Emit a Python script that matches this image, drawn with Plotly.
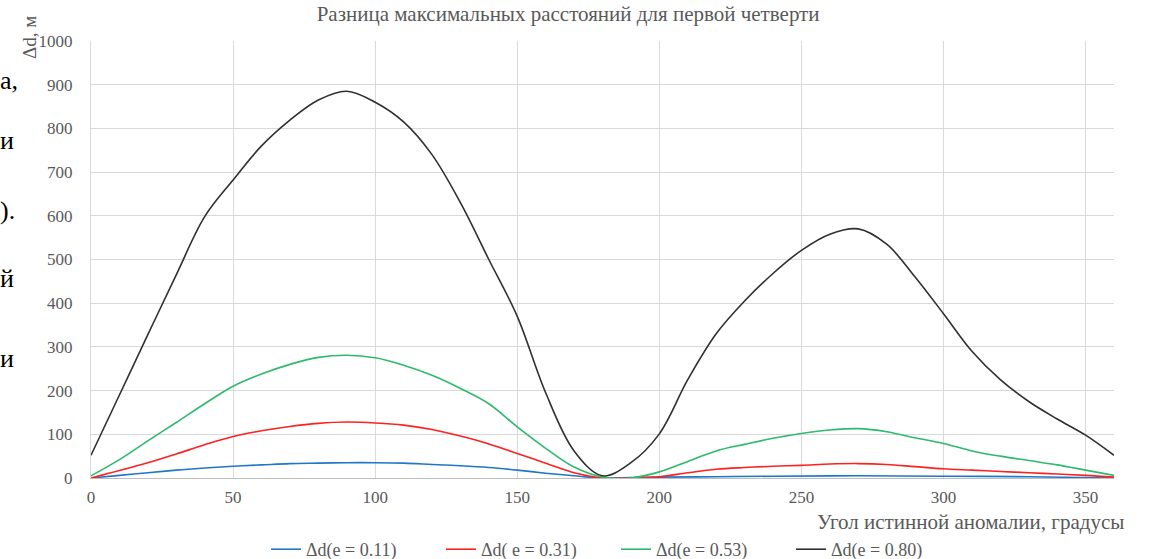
import plotly.graph_objects as go

# ---- data ----
angle_011 = [0, 10, 20, 30, 40, 50, 60, 70, 80, 90, 100, 110, 120, 130, 140, 150, 160, 170, 180,
             190, 200, 220, 240, 270, 300, 330, 360]
dd_011 = [0, 6, 12, 18, 23, 27, 30, 33, 34, 35, 35, 34, 31, 28, 24, 18, 11, 5, 0,
          1, 2, 3, 4, 5, 4, 3, 0]

angle_031 = [0, 10, 20, 30, 40, 50, 60, 70, 80, 90, 100, 110, 120, 130, 140, 150, 160, 170, 180,
             190, 200, 210, 220, 230, 240, 250, 260, 270, 280, 290, 300, 310, 320, 330, 340, 350, 360]
dd_031 = [0, 17, 35, 55, 76, 95, 108, 118, 125, 128, 126, 121, 111, 96, 78, 56, 34, 12, 0,
          0, 3, 12, 20, 24, 27, 29, 32, 33, 31, 26, 21, 18, 15, 12, 9, 6, 2]

angle_053 = [0, 10, 20, 30, 40, 50, 60, 70, 80, 90, 100, 110, 120, 130, 140, 150, 160, 170, 180,
             190, 200, 210, 220, 230, 240, 250, 260, 270, 280, 290, 300, 310, 320, 330, 340, 350, 360]
dd_053 = [5, 42, 85, 127, 170, 210, 238, 260, 276, 281, 275, 258, 235, 205, 170, 117, 68, 25, 2,
          0, 14, 38, 62, 77, 91, 102, 110, 113, 106, 92, 79, 62, 50, 40, 30, 18, 6]

angle_080 = [0, 10, 20, 30, 40, 50, 60, 70, 80, 90, 100, 110, 120, 130, 140, 150, 160, 170, 180,
             190, 200, 210, 220, 230, 240, 250, 260, 270, 280, 290, 300, 310, 320, 330, 340, 350, 360]
dd_080 = [52, 190, 328, 465, 598, 682, 760, 819, 865, 885, 860, 815, 740, 630, 500, 370, 195, 62, 5,
          35, 101, 225, 330, 405, 468, 521, 558, 570, 535, 460, 376, 290, 225, 175, 135, 98, 52]

series_names = ["Δd(e = 0.11)", "Δd( e = 0.31)", "Δd(e = 0.53)", "Δd(e = 0.80)"]
series_colors = ["#1F77C8", "#FF2020", "#2DBA6E", "#303030"]

x_ticks = [0, 50, 100, 150, 200, 250, 300, 350]
y_ticks = [0, 100, 200, 300, 400, 500, 600, 700, 800, 900, 1000]

title_text = "Разница максимальных расстояний для первой четверти"
x_title = "Угол истинной аномалии, градусы"
y_title = "Δd, м"
side_fragments = ["а,", "и", ").", "й", "и"]

# ---- figure ----
W, H = 1150, 559
L, R, T, B = 91, 36, 41, 81
pw, ph = W - L - R, H - T - B

def px_to_paper_x(px):
    return (px - L) / pw

def py_to_paper_y(py):
    return (H - B - py) / ph

fig = go.Figure()
data = [(angle_011, dd_011), (angle_031, dd_031), (angle_053, dd_053), (angle_080, dd_080)]
for (xs, ys), name, col in zip(data, series_names, series_colors):
    fig.add_trace(go.Scatter(
        x=xs, y=ys, name=name, mode="lines",
        line=dict(color=col, width=1.6, shape="spline", smoothing=1.0),
    ))

serif = "Liberation Serif, Times New Roman, serif"
gray = "#595959"

fig.update_layout(
    width=W, height=H,
    margin=dict(l=L, r=R, t=T, b=B, autoexpand=False),
    paper_bgcolor="white", plot_bgcolor="white",
    font=dict(family=serif, color=gray, size=17),
    title=dict(text=title_text, x=0.494, xanchor="center", y=1 - 14 / H, yanchor="middle",
               font=dict(family=serif, size=21, color=gray)),
    showlegend=True,
    legend=dict(orientation="h", x=px_to_paper_x(266), xanchor="left",
                y=py_to_paper_y(531), yanchor="top",
                font=dict(family=serif, size=18, color=gray),
                entrywidth=130, entrywidthmode="pixels",
                itemwidth=30, bgcolor="rgba(0,0,0,0)"),
    xaxis=dict(range=[0, 360], tickvals=x_ticks, ticktext=[str(v) for v in x_ticks],
               showgrid=True, gridcolor="#D9D9D9", gridwidth=1,
               showline=True, linecolor="#BFBFBF", linewidth=1,
               zeroline=False, ticks="", ticklabelstandoff=4,
               tickfont=dict(family=serif, size=17, color=gray)),
    yaxis=dict(range=[0, 1000], tickvals=y_ticks, ticktext=[str(v) for v in y_ticks],
               showgrid=True, gridcolor="#D9D9D9", gridwidth=1,
               showline=True, linecolor="#D9D9D9", linewidth=1,
               zeroline=False, ticks="", ticklabelstandoff=14,
               tickfont=dict(family=serif, size=17, color=gray)),
)

# x-axis title (right aligned, below ticks)
fig.add_annotation(text=x_title, xref="paper", yref="paper",
                   x=px_to_paper_x(1126), xanchor="right",
                   y=py_to_paper_y(522), yanchor="middle", showarrow=False,
                   font=dict(family=serif, size=21, color=gray))
# y-axis title (rotated, top-left)
fig.add_annotation(text=y_title, xref="paper", yref="paper",
                   x=px_to_paper_x(30), xanchor="center",
                   y=py_to_paper_y(38), yanchor="middle", showarrow=False, textangle=-90,
                   font=dict(family=serif, size=19, color=gray))

# fragments of surrounding document text on the left edge
frag_y = [80, 140, 210, 278, 358]
for txt, yy in zip(side_fragments, frag_y):
    fig.add_annotation(text=txt, xref="paper", yref="paper",
                       x=px_to_paper_x(-2), xanchor="left",
                       y=py_to_paper_y(yy), yanchor="middle", showarrow=False,
                       font=dict(family=serif, size=26, color="black"))

fig.write_html("out.html")
